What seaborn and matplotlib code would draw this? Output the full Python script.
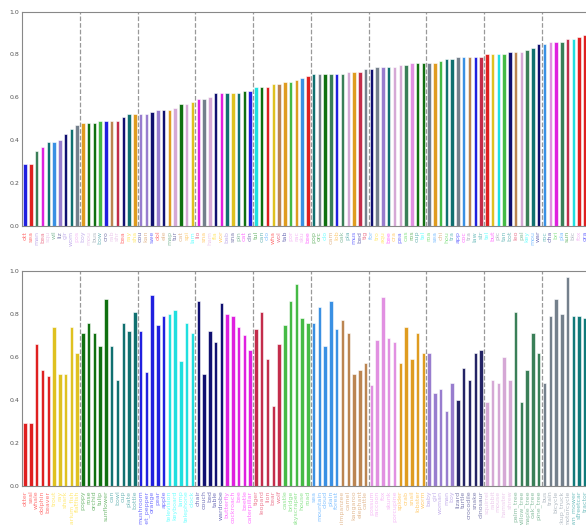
import matplotlib
matplotlib.use("Agg")
import matplotlib.pyplot as plt
import seaborn as sns
import numpy as np
import pandas as pd

superclasses = [
    "aquatic_mammals", "fish", "flowers", "food_containers", "fruit_and_vegetables",
    "household_electrical_devices", "household_furniture", "insects", "large_carnivores",
    "large_man-made_outdoor_things", "large_natural_outdoor_scenes",
    "large_omnivores_and_herbivores", "medium_mammals", "non-insect_invertebrates",
    "people", "reptiles", "small_mammals", "trees", "vehicles_1", "vehicles_2",
]
classes = [
    "otter", "seal", "whale", "dolphin", "beaver",
    "trout", "ray", "shark", "aquarium_fish", "flatfish",
    "poppy", "rose", "orchid", "tulip", "sunflower",
    "can", "bowl", "cup", "plate", "bottle",
    "mushroom", "sweet_pepper", "orange", "pear", "apple",
    "television", "keyboard", "lamp", "telephone", "clock",
    "chair", "couch", "bed", "table", "wardrobe",
    "butterfly", "cockroach", "bee", "beetle", "caterpillar",
    "tiger", "leopard", "lion", "bear", "wolf",
    "castle", "bridge", "skyscraper", "house", "road",
    "sea", "mountain", "cloud", "plain", "forest",
    "chimpanzee", "camel", "kangaroo", "elephant", "cattle",
    "possum", "raccoon", "fox", "skunk", "porcupine",
    "spider", "crab", "snail", "lobster", "worm",
    "baby", "girl", "woman", "man", "boy",
    "lizard", "turtle", "crocodile", "snake", "dinosaur",
    "squirrel", "rabbit", "mouse", "hamster", "shrew",
    "palm_tree", "willow_tree", "maple_tree", "oak_tree", "pine_tree",
    "bus", "train", "bicycle", "pickup_truck", "motorcycle",
    "lawn_mower", "streetcar", "tractor", "rocket", "tank",
]
accuracy = [
    0.29, 0.29, 0.66, 0.54, 0.51,
    0.74, 0.52, 0.52, 0.74, 0.62,
    0.71, 0.76, 0.71, 0.65, 0.87,
    0.65, 0.49, 0.76, 0.72, 0.81,
    0.72, 0.53, 0.89, 0.75, 0.79,
    0.80, 0.82, 0.58, 0.76, 0.71,
    0.86, 0.52, 0.72, 0.67, 0.85,
    0.80, 0.79, 0.74, 0.70, 0.63,
    0.73, 0.81, 0.59, 0.37, 0.66,
    0.75, 0.86, 0.94, 0.78, 0.76,
    0.76, 0.83, 0.65, 0.86, 0.73,
    0.77, 0.71, 0.52, 0.54, 0.57,
    0.47, 0.68, 0.88, 0.69, 0.67,
    0.57, 0.74, 0.59, 0.71, 0.62,
    0.62, 0.43, 0.45, 0.35, 0.48,
    0.40, 0.55, 0.49, 0.62, 0.63,
    0.39, 0.49, 0.48, 0.60, 0.49,
    0.81, 0.39, 0.54, 0.71, 0.62,
    0.48, 0.79, 0.87, 0.80, 0.97,
    0.79, 0.79, 0.78, 0.85, 0.80,
]

# style: label colours per superclass
super_colors = {
    "aquatic_mammals": "red", "fish": "gold", "flowers": "green",
    "food_containers": "teal", "fruit_and_vegetables": "blue",
    "household_electrical_devices": "cyan", "household_furniture": "navy",
    "insects": "magenta", "large_carnivores": "crimson",
    "large_man-made_outdoor_things": "limegreen",
    "large_natural_outdoor_scenes": "dodgerblue",
    "large_omnivores_and_herbivores": "peru", "medium_mammals": "violet",
    "non-insect_invertebrates": "orange", "people": "mediumpurple",
    "reptiles": "midnightblue", "small_mammals": "plum", "trees": "seagreen",
    "vehicles_1": "slategray", "vehicles_2": "darkcyan",
}
# style: bar colours of the ranked (top) panel, left to right
ranked_bar_palette = [
    "blue", "red", "seagreen", "magenta", "teal", "dodgerblue", "mediumpurple", "navy", "teal", "slategray",
    "orange", "green", "green", "limegreen", "blue", "peru", "crimson", "navy", "teal", "orange",
    "mediumpurple", "mediumpurple", "navy", "mediumpurple", "navy", "orange", "plum", "green", "plum", "gold",
    "magenta", "slategray", "plum", "navy", "magenta", "teal", "gold", "teal", "green", "blue",
    "cyan", "green", "red", "gold", "peru", "orange", "limegreen", "orange", "dodgerblue", "red",
    "teal", "slategray", "green", "seagreen", "blue", "seagreen", "plum", "orange", "crimson", "slategray",
    "navy", "slategray", "mediumpurple", "teal", "plum", "plum", "seagreen", "violet", "green", "green",
    "slategray", "orange", "limegreen", "teal", "teal", "slategray", "dodgerblue", "peru", "blue", "crimson",
    "red", "gold", "cyan", "limegreen", "navy", "peru", "plum", "seagreen", "teal", "navy",
    "dodgerblue", "violet", "magenta", "seagreen", "crimson", "cyan", "red", "red", "blue", "gold",
]

df = pd.DataFrame({
    "cls": classes,
    "acc": accuracy,
    "sup": np.repeat(superclasses, 5),
})
df["color"] = df["sup"].map(super_colors)
class_color = dict(zip(df["cls"], df["color"]))
df_sorted = df.sort_values("acc", kind="stable").reset_index(drop=True)
ranked_color = dict(zip(df_sorted["cls"], ranked_bar_palette))

sns.set_style("white")
W, H = 586, 525
fig = plt.figure(figsize=(W / 100, H / 100), dpi=100)
left = 22.3 / W
width = 577 / W
ax1 = fig.add_axes([left, 1 - 226 / H, width, 214.5 / H])
ax2 = fig.add_axes([left, 1 - 485.7 / H, width, 214.7 / H])

for ax, d, pal in [(ax1, df_sorted, ranked_color), (ax2, df, class_color)]:
    sns.barplot(data=d, x="cls", y="acc", hue="cls", palette=pal,
                order=list(d["cls"]), legend=False, width=0.6, ax=ax,
                linewidth=0.4, edgecolor="white")
    ax.set_xlim(-0.5, len(d) - 0.5)
    ax.set_ylim(0, 1.0)
    ax.set_xlabel("")
    ax.set_ylabel("")
    for k in range(10, len(d), 10):
        ax.axvline(k - 0.5, color="gray", linestyle="--", linewidth=0.9, alpha=0.8)
    ax.set_yticks([0.0, 0.2, 0.4, 0.6, 0.8, 1.0])
    ax.set_yticklabels(["0.0", "0.2", "0.4", "0.6", "0.8", "1.0"])
    ax.tick_params(axis="y", labelsize=4.5, colors="#555555", length=0, pad=2)
    ax.tick_params(axis="x", labelsize=4.5, length=2, width=0.5, color="#555555", pad=1.5)
    for s in ax.spines.values():
        s.set_color("#888888")
        s.set_linewidth(0.8)

ax1.set_xticks(range(len(df_sorted)))
ax1.set_xticklabels([c[:3] for c in df_sorted["cls"]], rotation=90)
for lab, c in zip(ax1.get_xticklabels(), df_sorted["color"]):
    lab.set_color(c)
    lab.set_alpha(0.55)

ax2.set_xticks(range(len(df)))
ax2.set_xticklabels(list(df["cls"]), rotation=90)
for lab, c in zip(ax2.get_xticklabels(), df["color"]):
    lab.set_color(c)
    lab.set_alpha(0.55)

fig.savefig("out.png", dpi=100)
